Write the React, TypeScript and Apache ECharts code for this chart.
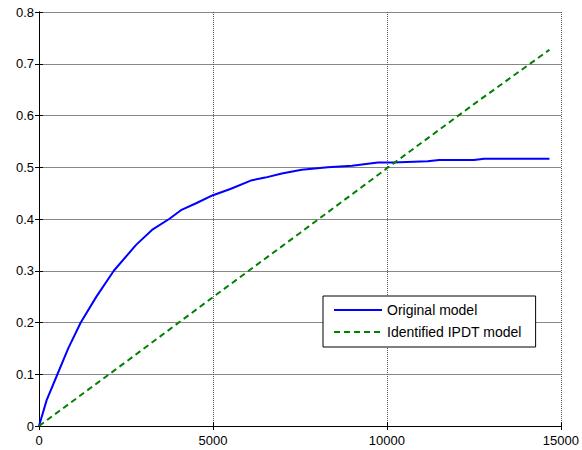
import React, { useEffect, useRef } from "react";
import * as echarts from "echarts";

const xTicks = [0, 5000, 10000, 15000];
const yTickStep = 0.1;

const origX = [0, 220, 530, 840, 1200, 1650, 2150, 2790, 3270, 3740, 4080, 4500, 5000, 5500, 6120, 6500, 6980, 7550, 8300, 9000, 9740, 10170, 11170, 11500, 12000, 12500, 12790, 13500, 14670];
const origY = [0, 0.05, 0.1, 0.15, 0.2, 0.25, 0.3, 0.35, 0.38, 0.4, 0.417, 0.43, 0.446, 0.458, 0.475, 0.48, 0.488, 0.495, 0.5, 0.503, 0.509, 0.509, 0.5115, 0.514, 0.514, 0.514, 0.5166, 0.5166, 0.5166];

const ipdtX = [0, 2500, 5000, 7500, 10000, 12500, 14670];
const ipdtY = [0, 0.124, 0.249, 0.373, 0.498, 0.622, 0.727];

const seriesNames = ["Original model", "Identified IPDT model"];

const FONT = "'Liberation Sans', Arial, sans-serif";

export default function App() {
  const ref = useRef<HTMLDivElement>(null);

  useEffect(() => {
    if (!ref.current) return;
    const chart = echarts.init(ref.current, undefined, { renderer: "svg" });
    const tick = { show: true, inside: true, length: 4, lineStyle: { color: "#000", width: 1 } };
    const axisLine = { show: true, lineStyle: { color: "#000", width: 1 } };
    chart.setOption({
      animation: false,
      backgroundColor: "#fff",
      grid: { left: 39, right: 18, top: 12, bottom: 24, containLabel: false },
      legend: {
        data: seriesNames,
        orient: "vertical",
        left: 323,
        top: 296,
        backgroundColor: "#fff",
        borderColor: "#000",
        borderWidth: 1,
        borderRadius: 0,
        padding: [7, 14, 8, 10],
        itemWidth: 48,
        itemHeight: 14,
        itemGap: 8,
        itemStyle: { opacity: 0 },
        textStyle: { fontSize: 14, color: "#000", fontFamily: FONT },
      },
      xAxis: [
        {
          type: "value",
          min: xTicks[0],
          max: xTicks[xTicks.length - 1],
          interval: 5000,
          axisLine,
          axisTick: tick,
          axisLabel: {
            color: "#000",
            fontSize: 13,
            fontFamily: FONT,
            margin: 8,
            formatter: (v: number) => String(v),
          },
          splitLine: { show: true, lineStyle: { color: "#555", type: "dotted", width: 1 } },
        },
        {
          type: "value",
          position: "top",
          min: xTicks[0],
          max: xTicks[xTicks.length - 1],
          interval: 5000,
          axisLine,
          axisTick: tick,
          axisLabel: { show: false },
          splitLine: { show: false },
        },
      ],
      yAxis: [
        {
          type: "value",
          min: 0,
          max: 0.8,
          interval: yTickStep,
          axisLine,
          axisTick: tick,
          axisLabel: {
            color: "#000",
            fontSize: 13,
            fontFamily: FONT,
            margin: 5,
            formatter: (v: number) => (v === 0 ? "0" : v.toFixed(1)),
          },
          splitLine: { show: true, lineStyle: { color: "#888", type: "solid", width: 1 } },
        },
        {
          type: "value",
          position: "right",
          min: 0,
          max: 0.8,
          interval: yTickStep,
          axisLine,
          axisTick: tick,
          axisLabel: { show: false },
          splitLine: { show: false },
        },
      ],
      series: [
        {
          name: seriesNames[0],
          type: "line",
          xAxisIndex: 0,
          yAxisIndex: 0,
          data: origX.map((x, i) => [x, origY[i]]),
          symbol: "none",
          showSymbol: false,
          lineStyle: { color: "#0000ff", width: 2 },
          itemStyle: { color: "#0000ff" },
          z: 3,
        },
        {
          name: seriesNames[1],
          type: "line",
          xAxisIndex: 0,
          yAxisIndex: 0,
          data: ipdtX.map((x, i) => [x, ipdtY[i]]),
          symbol: "none",
          showSymbol: false,
          lineStyle: { color: "#008000", width: 2, type: [6, 4] },
          itemStyle: { color: "#008000" },
          z: 3,
        },
      ],
    });
    return () => chart.dispose();
  }, []);

  return (
    <div
      ref={ref}
      style={{ position: "absolute", left: 0, top: 0, width: 582, height: 450, background: "#fff" }}
    />
  );
}
